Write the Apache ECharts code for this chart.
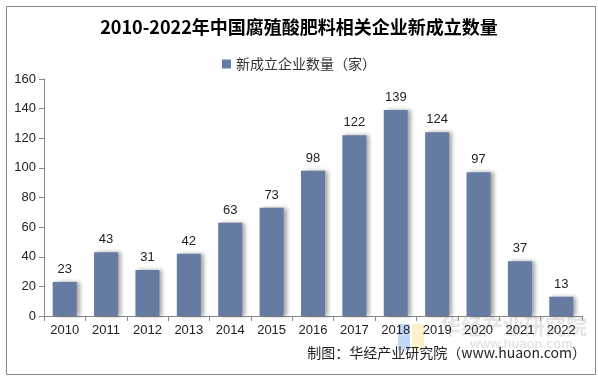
<!DOCTYPE html>
<html><head><meta charset="utf-8">
<script src="https://cdn.jsdelivr.net/npm/echarts@6/dist/echarts.min.js"></script>
<style>html,body{margin:0;padding:0;background:#fff}#c{width:598px;height:377px}</style>
</head><body><div id="c"></div>
<script>
const titleText = '2010-2022年中国腐殖酸肥料相关企业新成立数量';
const seriesName = '新成立企业数量（家）';
const categories = ['2010','2011','2012','2013','2014','2015','2016','2017','2018','2019','2020','2021','2022'];
const values = [23,43,31,42,63,73,98,122,139,124,97,37,13];
const sourceText = '制图：华经产业研究院（www.huaon.com）';

const chart = echarts.init(document.getElementById('c'));
chart.setOption({
  animation: false,
  backgroundColor: '#fff',
  title: {
    text: titleText, left: 'center', top: 13,
    textStyle: {fontFamily: 'Noto Sans CJK SC', fontWeight: 'bold', fontSize: 18, color: '#000'}
  },
  legend: {
    top: 52, left: 'center', itemWidth: 9, itemHeight: 9, itemGap: 4,
    icon: 'rect',
    textStyle: {fontFamily: 'Noto Sans CJK SC', fontSize: 14, color: '#333'},
    data: [seriesName]
  },
  grid: {left: 44, right: 16, top: 79, bottom: 61, containLabel: false},
  xAxis: {
    type: 'category', data: categories,
    axisLine: {lineStyle: {color: '#888'}},
    axisTick: {show: true, alignWithLabel: false, length: 5, lineStyle: {color: '#888'}},
    axisLabel: {color: '#222', fontSize: 13, fontFamily: 'Liberation Sans', margin: 8}
  },
  yAxis: {
    type: 'value', min: 0, max: 160, interval: 20,
    axisLine: {show: true, lineStyle: {color: '#888'}},
    axisTick: {show: true, length: 5, lineStyle: {color: '#888'}},
    splitLine: {show: false},
    axisLabel: {color: '#222', fontSize: 13, fontFamily: 'Liberation Sans', margin: 8}
  },
  series: [{
    name: seriesName, type: 'bar', data: values, barWidth: 24,
    itemStyle: {color: '#667ba1', shadowColor: 'rgba(0,0,0,0.35)', shadowBlur: 4, shadowOffsetX: 3, shadowOffsetY: 0},
    label: {show: true, position: 'top', color: '#222', fontSize: 13, fontFamily: 'Liberation Sans', distance: 6}
  }],
  graphic: [
    {type: 'rect', left: 4, top: 4, shape: {width: 589, height: 368}, style: {fill: 'none', stroke: '#888', lineWidth: 1}, silent: true},
    {type: 'text', left: 440, top: 316, style: {text: '华经产业研究院', fontSize: 21, fontWeight: 'bold', fontFamily: 'Noto Sans CJK SC', fill: 'rgba(150,150,150,0.25)'}},
    {type: 'text', left: 470, top: 338, style: {text: 'www.huaon.com', fontSize: 13, fontWeight: 'bold', fontFamily: 'Liberation Sans', fill: 'rgba(150,150,150,0.25)'}},
    {type: 'rect', left: 398, top: 324, shape: {width: 12, height: 26}, style: {fill: 'rgba(120,170,240,0.45)'}},
    {type: 'rect', left: 412, top: 324, shape: {width: 12, height: 26}, style: {fill: 'rgba(250,230,150,0.5)'}},
    {type: 'text', right: 12, top: 346, style: {text: sourceText, fontSize: 14, fontFamily: 'Noto Sans CJK SC', fill: '#222'}}
  ]
});
</script></body></html>
